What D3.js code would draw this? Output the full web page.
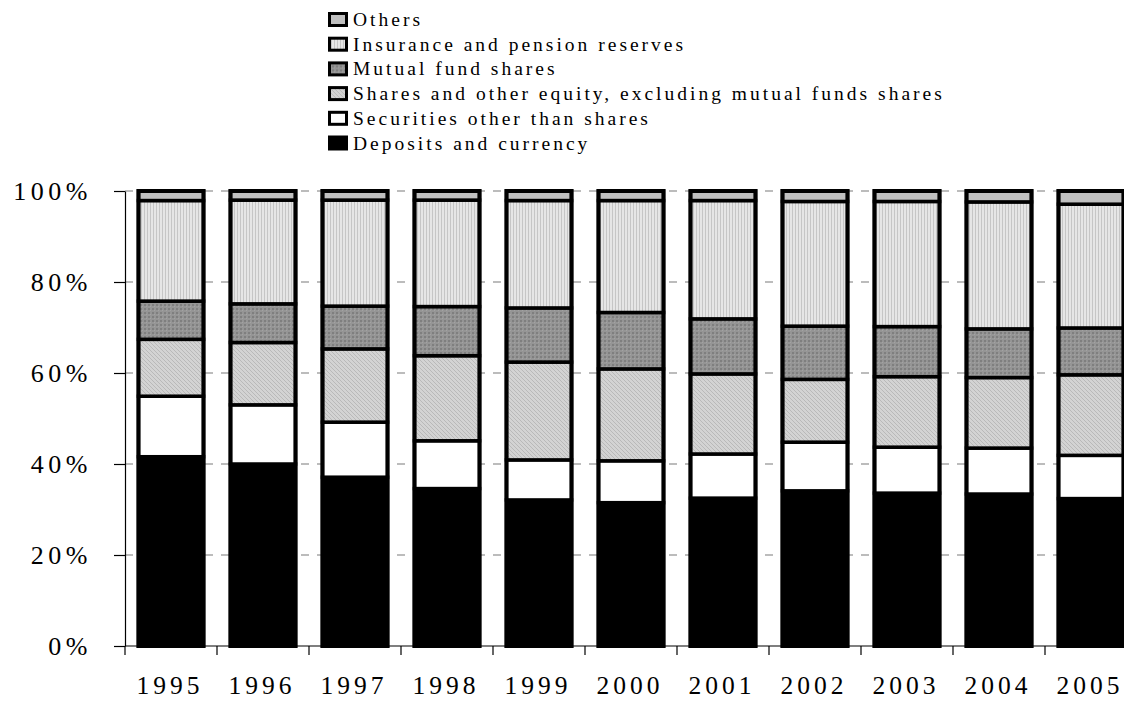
<!DOCTYPE html>
<html>
<head>
<meta charset="utf-8">
<script src="https://cdn.jsdelivr.net/npm/d3@7"></script>
<style>
  html, body { margin: 0; padding: 0; background: #fff; }
  svg { display: block; }
  .lbl { font-family: 'Liberation Serif', 'DejaVu Serif', serif; }
</style>
</head>
<body>
<svg id="chart" width="1124" height="701"></svg>
<script>
// Household financial assets by instrument, share of total (%)
const years = ["1995", "1996", "1997", "1998", "1999", "2000", "2001", "2002", "2003", "2004", "2005"];
const deposits     = [41.6, 40.0, 37.1, 34.6, 32.1, 31.5, 32.5, 34.1, 33.6, 33.4, 32.4];
const securities   = [13.3, 13.0, 12.1, 10.5,  8.8,  9.2,  9.7, 10.7, 10.1, 10.1,  9.5];
const sharesEquity = [12.5, 13.7, 16.1, 18.7, 21.5, 20.2, 17.6, 13.8, 15.5, 15.5, 17.7];
const mutualFunds  = [ 8.4,  8.5,  9.4, 10.8, 11.9, 12.4, 12.1, 11.7, 11.0, 10.7, 10.3];
const insurance    = [22.1, 22.8, 23.3, 23.4, 23.6, 24.6, 26.0, 27.4, 27.5, 27.9, 27.2];
const others       = [ 2.1,  2.0,  2.0,  2.0,  2.1,  2.1,  2.1,  2.3,  2.3,  2.4,  2.9];

const seriesNames = [
  "Deposits and currency",
  "Securities other than shares",
  "Shares and other equity, excluding mutual funds shares",
  "Mutual fund shares",
  "Insurance and pension reserves",
  "Others"
];
const seriesValues = [deposits, securities, sharesEquity, mutualFunds, insurance, others];
const yTicks = [0, 0.2, 0.4, 0.6, 0.8, 1.0];

const svg = d3.select("#chart");

// Fill patterns
const defs = svg.append("defs");
const pIns = defs.append("pattern").attr("id", "p-ins").attr("patternUnits", "userSpaceOnUse")
  .attr("width", 3).attr("height", 3);
pIns.append("rect").attr("width", 3).attr("height", 3).attr("fill", "#e6e6e6");
pIns.append("rect").attr("x", 0).attr("width", 1).attr("height", 3).attr("fill", "#c6c6c6");

const pMut = defs.append("pattern").attr("id", "p-mut").attr("patternUnits", "userSpaceOnUse")
  .attr("width", 4).attr("height", 4);
pMut.append("rect").attr("width", 4).attr("height", 4).attr("fill", "#959595");
pMut.append("rect").attr("x", 0).attr("y", 0).attr("width", 2).attr("height", 2).attr("fill", "#7f7f7f");
pMut.append("rect").attr("x", 2).attr("y", 2).attr("width", 1).attr("height", 1).attr("fill", "#a3a3a3");

const pSh = defs.append("pattern").attr("id", "p-sh").attr("patternUnits", "userSpaceOnUse")
  .attr("width", 4).attr("height", 4);
pSh.append("rect").attr("width", 4).attr("height", 4).attr("fill", "#d3d3d3");
pSh.append("path").attr("d", "M0,0 L4,4 M-1,3 L1,5 M3,-1 L5,1").attr("stroke", "#b9b9b9").attr("stroke-width", 1);

const fills = ["#000000", "#ffffff", "url(#p-sh)", "url(#p-mut)", "url(#p-ins)", "#c0c0c0"];

// Scales
const x = d3.scaleBand().domain(years).range([125, 125 + 92 * years.length]).padding(0);
const y = d3.scaleLinear().domain([0, 1]).range([646, 191]);
const barW = x.bandwidth() * 0.707;

// Stacked data (normalised to 100%)
const rows = years.map((yr, i) => {
  const r = { year: yr };
  seriesNames.forEach((n, k) => { r[n] = seriesValues[k][i]; });
  return r;
});
const stack = d3.stack().keys(seriesNames).offset(d3.stackOffsetExpand);
const layers = stack(rows);

// Dashed gridlines
svg.append("g").selectAll("line")
  .data(yTicks.filter(t => t > 0))
  .join("line")
  .attr("x1", 125).attr("x2", 1124)
  .attr("y1", d => y(d)).attr("y2", d => y(d))
  .attr("stroke", "#a6a6a6").attr("stroke-width", 1.4)
  .attr("stroke-dasharray", "8,8");

// Bars
const gBars = svg.append("g");
layers.forEach((layer, k) => {
  gBars.append("g").selectAll("rect")
    .data(layer)
    .join("rect")
    .attr("x", d => x(d.data.year) + (x.bandwidth() - barW) / 2)
    .attr("width", barW)
    .attr("y", d => y(d[1]))
    .attr("height", d => y(d[0]) - y(d[1]))
    .attr("fill", fills[k])
    .attr("stroke", "#000")
    .attr("stroke-width", 3.5);
});
// Outer bar frames
gBars.append("g").selectAll("rect")
  .data(years)
  .join("rect")
  .attr("x", d => x(d) + (x.bandwidth() - barW) / 2)
  .attr("width", barW)
  .attr("y", y(1))
  .attr("height", y(0) - y(1))
  .attr("fill", "none")
  .attr("stroke", "#000")
  .attr("stroke-width", 4);

// Y axis
const yAxis = svg.append("g")
  .attr("transform", "translate(125,0)")
  .call(d3.axisLeft(y).tickValues(yTicks).tickFormat(d3.format(".0%")).tickSize(11).tickSizeOuter(0).tickPadding(22));
yAxis.attr("font-family", null).attr("font-size", null);
yAxis.select(".domain").attr("stroke", "#000").attr("stroke-width", 1.2);
yAxis.selectAll(".tick line").attr("stroke", "#000").attr("stroke-width", 1.2);
yAxis.selectAll(".tick text")
  .attr("class", "lbl")
  .style("font-size", "26px")
  .style("letter-spacing", "4.5px")
  .attr("fill", "#000");

// X axis: baseline, boundary ticks, year labels
const gX = svg.append("g");
gX.append("line")
  .attr("x1", 125).attr("x2", 1124).attr("y1", y(0)).attr("y2", y(0))
  .attr("stroke", "#000").attr("stroke-width", 1.2);
gX.selectAll("line.tk")
  .data(years)
  .join("line")
  .attr("class", "tk")
  .attr("x1", d => x(d)).attr("x2", d => x(d))
  .attr("y1", y(0)).attr("y2", y(0) + 9)
  .attr("stroke", "#000").attr("stroke-width", 1.2);
gX.selectAll("text")
  .data(years)
  .join("text")
  .attr("class", "lbl")
  .attr("x", d => x(d) + x.bandwidth() / 2 - 1)
  .attr("y", 694)
  .attr("text-anchor", "middle")
  .style("font-size", "25.5px")
  .style("letter-spacing", "4px")
  .attr("fill", "#000")
  .text(d => d);

// Legend (top item is last series)
const legendOrder = seriesNames.map((n, k) => ({ name: n, fill: fills[k] })).reverse();
const gLeg = svg.append("g");
const legItem = gLeg.selectAll("g")
  .data(legendOrder)
  .join("g")
  .attr("transform", (d, i) => `translate(328, ${12 + i * 24.7})`);
legItem.append("rect")
  .attr("x", 1.5).attr("y", 1.5)
  .attr("width", 17).attr("height", 12)
  .attr("fill", d => d.fill)
  .attr("stroke", "#000").attr("stroke-width", 3);
legItem.append("text")
  .attr("class", "lbl")
  .attr("x", 25).attr("y", 14)
  .style("font-size", "19.5px")
  .style("letter-spacing", "3px")
  .attr("fill", "#000")
  .text(d => d.name);
</script>
</body>
</html>
